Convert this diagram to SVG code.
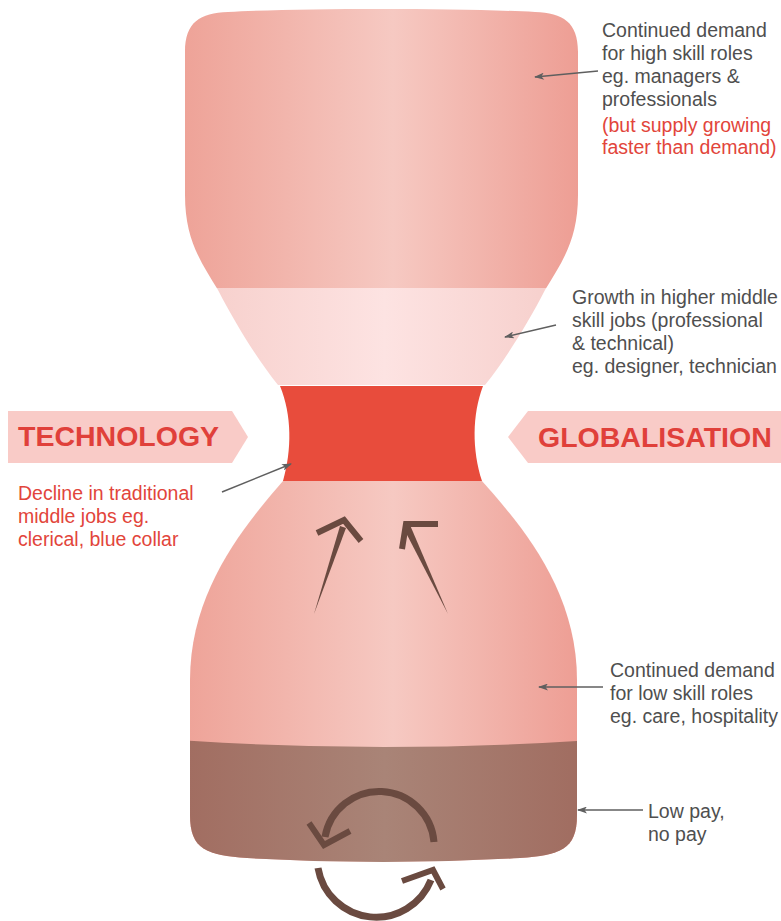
<svg xmlns="http://www.w3.org/2000/svg" width="781" height="921" viewBox="0 0 781 921">
  <style>
    .lbl { font-family: "Liberation Sans", Arial, sans-serif; font-size: 19.5px; fill: #4f4f4f; }
    .red { fill: #e2453b; }
    .bannertxt { font-family: "Liberation Sans", Arial, sans-serif; font-size: 28.5px; font-weight: bold; fill: #e0403a; }
    .banner { fill: #f9cbc7; }
    .conn { stroke: #5f5f5f; stroke-width: 1.5; fill: none; marker-end: url(#ah); }
    .brown { stroke: #6a4a40; fill: none; }
  </style>
  <defs>
    <linearGradient id="pinkG" x1="0" y1="0" x2="1" y2="0">
      <stop offset="0" stop-color="#eea297"/>
      <stop offset="0.52" stop-color="#f6c9c2"/>
      <stop offset="1" stop-color="#ed9b91"/>
    </linearGradient>
    <linearGradient id="paleG" x1="0" y1="0" x2="1" y2="0">
      <stop offset="0" stop-color="#f6cdc9"/>
      <stop offset="0.5" stop-color="#fde3e2"/>
      <stop offset="1" stop-color="#f5cbc7"/>
    </linearGradient>
    <linearGradient id="brownG" x1="0" y1="0" x2="1" y2="0">
      <stop offset="0" stop-color="#a0695d"/>
      <stop offset="0.5" stop-color="#a98477"/>
      <stop offset="1" stop-color="#9f685c"/>
    </linearGradient>
    <clipPath id="upperClip">
      <path d="M 185 52 C 185 22 200 13 228 12 C 300 8 460 8 535 12 C 563 13 578 22 578 52 L 578 195 C 578 240 562 262 545 290 C 527 325 505 360 485 385 L 278 385 C 258 360 236 325 218 290 C 201 262 185 240 185 195 Z"/>
    </clipPath>
    <clipPath id="lowerClip">
      <path d="M 283 481 L 482 481 C 521 525 577 590 577 680 L 577 815 C 577 850 560 855 520 858 Q 383 866 247 858 C 207 855 190 850 190 815 L 190 680 C 190 590 245 525 283 481 Z"/>
    </clipPath>
    <marker id="ah" viewBox="0 0 10 7" refX="9" refY="3.5" markerWidth="11" markerHeight="7" markerUnits="userSpaceOnUse" orient="auto">
      <path d="M0,0 L10,3.5 L0,7 L2.5,3.5 Z" fill="#5f5f5f"/>
    </marker>
  </defs>

  <g id="high-skill">
    <rect x="180" y="0" width="410" height="288" fill="url(#pinkG)" clip-path="url(#upperClip)"/>
  </g>
  <g id="higher-middle">
    <rect x="180" y="288" width="410" height="100" fill="url(#paleG)" clip-path="url(#upperClip)"/>
  </g>
  <g id="traditional-middle">
    <path d="M 280 386 L 483 386 C 472 415 472 450 482 481 L 283 481 C 292 450 292 415 280 386 Z" fill="#e84c3c"/>
  </g>
  <g id="low-skill">
    <rect x="180" y="478" width="410" height="400" fill="url(#pinkG)" clip-path="url(#lowerClip)"/>
    <polygon points="314,614 340,526 346,528" fill="#6a4a40"/>
    <polyline class="brown" points="317,533 344,520 361,541" stroke-width="6"/>
    <polygon points="448,614 404,529 410,525" fill="#6a4a40"/>
    <polyline class="brown" points="438,524 406,524 402,549" stroke-width="6"/>
  </g>
  <g id="low-pay">
    <path d="M 150 738 Q 383 756 620 738 L 620 900 L 150 900 Z" fill="url(#brownG)" clip-path="url(#lowerClip)"/>
    <path class="brown" d="M 434 842 A 55 55 0 0 0 325 837" stroke-width="7"/>
    <polyline class="brown" points="309,823 324,845 350,831" stroke-width="6"/>
    <path class="brown" d="M 318 868 A 59 59 0 0 0 431 880" stroke-width="7"/>
    <polyline class="brown" points="402,881 433,870 443,889" stroke-width="6"/>
  </g>

  <g id="technology">
    <polygon class="banner" points="8,411 232,411 248,437 232,463 8,463"/>
    <text class="bannertxt" x="18" y="446">TECHNOLOGY</text>
  </g>
  <g id="globalisation">
    <polygon class="banner" points="781,411 528,411 508,437 528,463 781,463"/>
    <text class="bannertxt" x="538" y="447">GLOBALISATION</text>
  </g>

  <g id="label-high">
    <text class="lbl" x="602" y="37">Continued demand</text>
    <text class="lbl" x="602" y="60">for high skill roles</text>
    <text class="lbl" x="602" y="83">eg. managers &amp;</text>
    <text class="lbl" x="602" y="106">professionals</text>
    <text class="lbl red" x="602" y="132">(but supply growing</text>
    <text class="lbl red" x="602" y="154">faster than demand)</text>
  </g>
  <g id="label-higher-middle">
    <text class="lbl" x="572" y="304">Growth in higher middle</text>
    <text class="lbl" x="572" y="327">skill jobs (professional</text>
    <text class="lbl" x="572" y="350">&amp; technical)</text>
    <text class="lbl" x="572" y="373">eg. designer, technician</text>
  </g>
  <g id="label-traditional">
    <text class="lbl red" x="18" y="500">Decline in traditional</text>
    <text class="lbl red" x="18" y="523">middle jobs eg.</text>
    <text class="lbl red" x="18" y="546">clerical, blue collar</text>
  </g>
  <g id="label-low-skill">
    <text class="lbl" x="610" y="677">Continued demand</text>
    <text class="lbl" x="610" y="700">for low skill roles</text>
    <text class="lbl" x="610" y="723">eg. care, hospitality</text>
  </g>
  <g id="label-low-pay">
    <text class="lbl" x="648" y="818">Low pay,</text>
    <text class="lbl" x="648" y="841">no pay</text>
  </g>

  <g id="connectors">
    <line class="conn" x1="598" y1="71" x2="535" y2="77"/>
    <line class="conn" x1="556" y1="325" x2="505" y2="337"/>
    <line class="conn" x1="222" y1="492" x2="291" y2="464"/>
    <line class="conn" x1="603" y1="687" x2="539" y2="687"/>
    <line class="conn" x1="643" y1="810" x2="578" y2="810"/>
  </g>
</svg>
